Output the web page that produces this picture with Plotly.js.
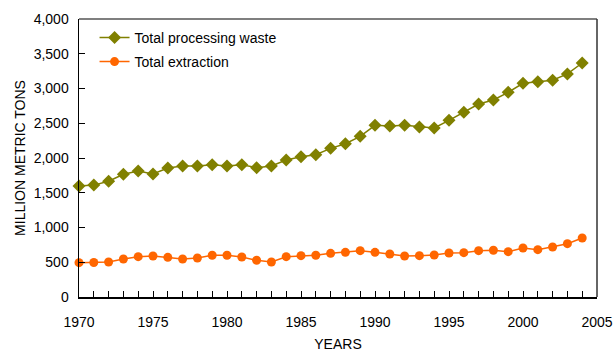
<!DOCTYPE html>
<html><head><meta charset="utf-8">
<script src="https://cdn.plot.ly/plotly-3.0.1.min.js"></script>
<style>body{margin:0;padding:0;}#c{width:613px;height:352px;}</style>
</head><body><div id="c"></div>
<script>
const years = [1970,1971,1972,1973,1974,1975,1976,1977,1978,1979,1980,1981,1982,1983,1984,1985,1986,1987,1988,1989,1990,1991,1992,1993,1994,1995,1996,1997,1998,1999,2000,2001,2002,2003,2004];
const processingWaste = [1597,1610,1665,1765,1813,1770,1856,1885,1885,1904,1885,1904,1861,1885,1971,2019,2048,2139,2206,2312,2470,2460,2470,2446,2432,2542,2657,2777,2835,2945,3075,3098,3118,3209,3367];
const extraction = [494,497,504,547,580,590,571,547,561,600,600,576,528,504,580,595,600,628,643,667,643,619,590,595,604,633,638,667,672,652,705,681,719,767,849];
const seriesNames = ["Total processing waste","Total extraction"];
const yTickVals = [0,500,1000,1500,2000,2500,3000,3500,4000];
const yTickText = ["0","500","1,000","1,500","2,000","2,500","3,000","3,500","4,000"];

const font = {family:"Liberation Sans, Arial, sans-serif", size:14, color:"#000"};
const data = [
  {x:years, y:processingWaste, name:seriesNames[0], legendgroup:"a", mode:"lines+markers", cliponaxis:false,
   line:{color:"#808000", width:1.5}, marker:{symbol:"diamond", size:10, color:"#808000"}},
  {x:years, y:extraction, name:seriesNames[1], legendgroup:"b", mode:"lines+markers", cliponaxis:false,
   line:{color:"#FF6600", width:1.5}, marker:{symbol:"circle", size:9, color:"#FF6600"}}
];
const layout = {
  width:613, height:352,
  margin:{l:79, r:16, t:19, b:55},
  paper_bgcolor:"#fff", plot_bgcolor:"#fff",
  font:font,
  showlegend:true,
  legend:{x:0.03, y:0.99, xanchor:"left", yanchor:"top", bgcolor:"rgba(0,0,0,0)", font:{size:14}, itemwidth:30, tracegroupgap:3},
  xaxis:{range:[1970,2005], tickmode:"linear", tick0:1970, dtick:5, ticks:"inside", ticklen:6, tickcolor:"#000",
    showline:true, linecolor:"#000", linewidth:1.5, showgrid:false, zeroline:false, ticklabelstandoff:12,
    minor:{dtick:1, ticks:"inside", ticklen:6, tickcolor:"#000", showgrid:false},
    tickfont:{size:14}, title:{text:"YEARS", font:{size:14}, standoff:10}},
  yaxis:{range:[0,4000], tickvals:yTickVals, ticktext:yTickText, ticks:"inside", ticklen:6, tickcolor:"#000",
    showline:true, linecolor:"#000", linewidth:1.5, showgrid:false, zeroline:false, ticklabelstandoff:6,
    tickfont:{size:14}, title:{text:"MILLION METRIC TONS", font:{size:14}, standoff:5}},
  shapes:[
    {type:"line", xref:"paper", yref:"paper", x0:0, x1:1, y0:1, y1:1, line:{color:"#555", width:1.5}},
    {type:"line", xref:"paper", yref:"paper", x0:1, x1:1, y0:0, y1:1, line:{color:"#333", width:1.5}}
  ]
};
Plotly.newPlot("c", data, layout, {displayModeBar:false, staticPlot:true});
</script></body></html>
